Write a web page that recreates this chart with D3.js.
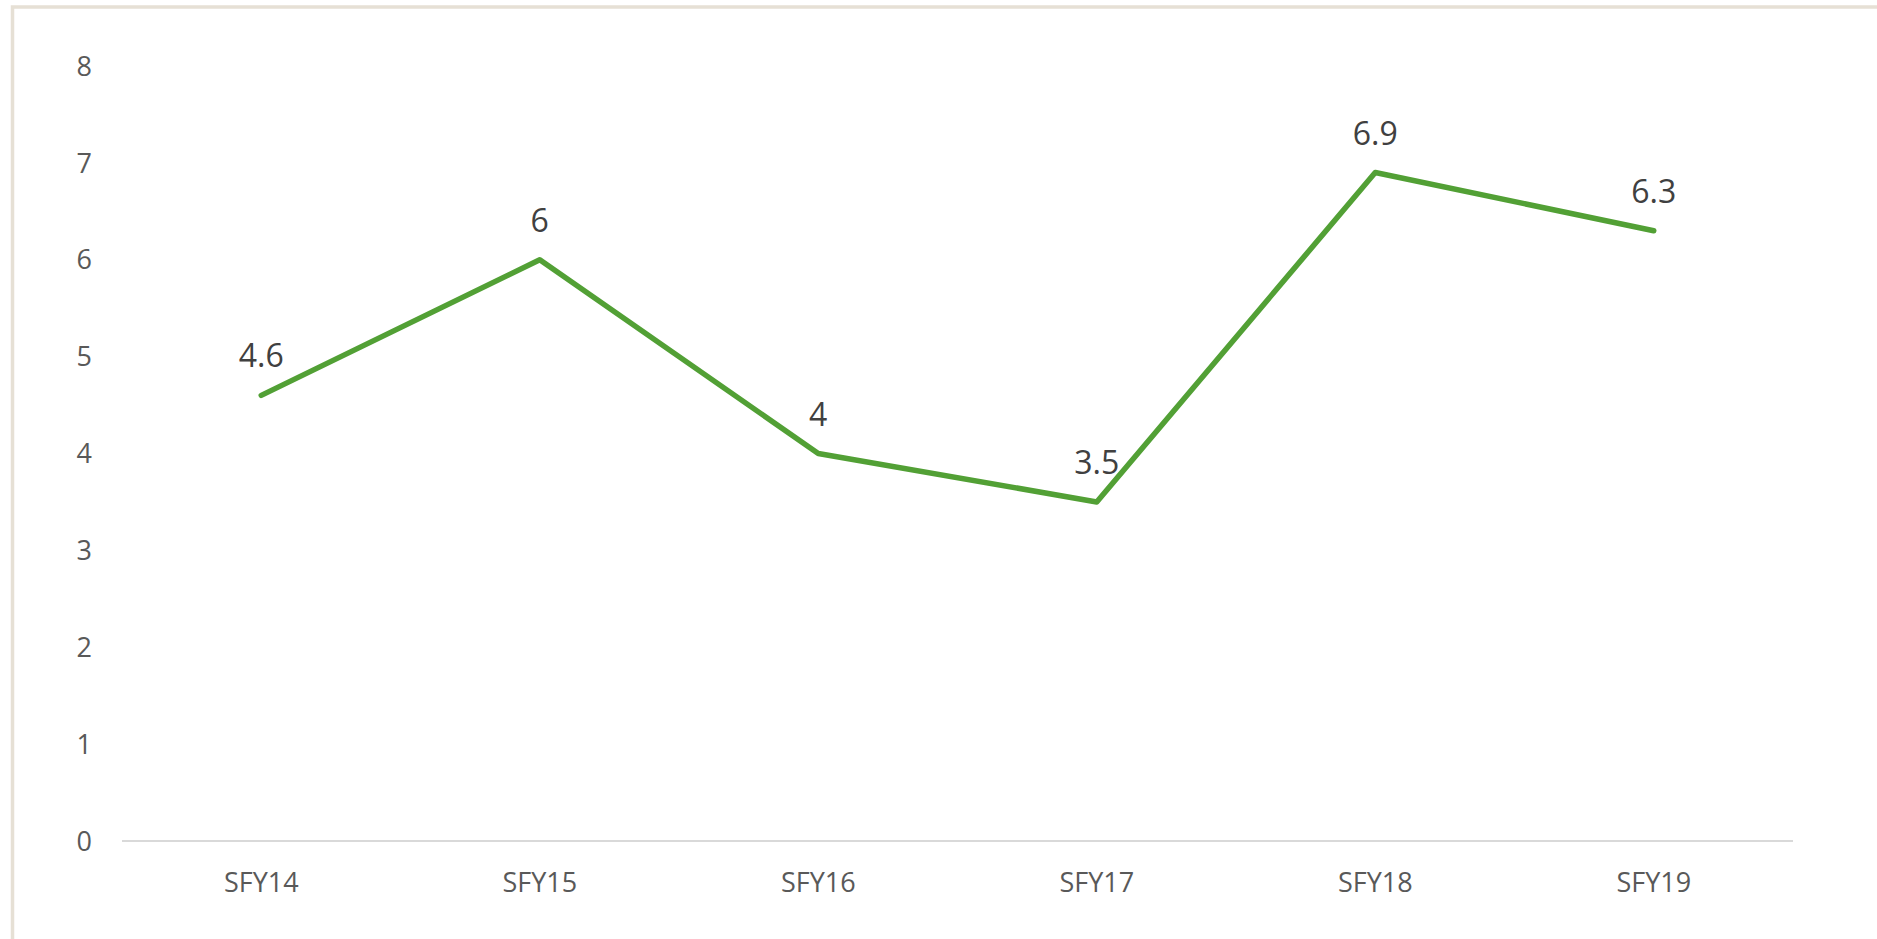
<!DOCTYPE html>
<html>
<head>
<meta charset="utf-8">
<script src="https://cdn.jsdelivr.net/npm/d3@7"></script>
<style>
  body { margin: 0; background: #fff; }
  svg { display: block; }
</style>
</head>
<body>
<script>
// chart values
const years = ["SFY14", "SFY15", "SFY16", "SFY17", "SFY18", "SFY19"];
const values = [4.6, 6, 4, 3.5, 6.9, 6.3];
const yTicks = [0, 1, 2, 3, 4, 5, 6, 7, 8];

function drawChart() {
    const W = 1877, H = 939;
    let svg = d3.select("body").append("svg")
        .attr("width", W)
        .attr("height", H);

    // frame round the chart area (only top and left are visible)
    svg.append("rect")
        .attr("x", 12.5).attr("y", 7)
        .attr("width", W).attr("height", H)
        .attr("fill", "none")
        .attr("stroke", "#e6e0d5")
        .attr("stroke-width", 3.5);

    let x = d3.scaleBand().domain(years).range([122, 1793]);
    let y = d3.scaleLinear().domain([0, 8]).range([841, 66]);

    // y tick labels, no axis line
    svg.selectAll(".ytick")
        .data(yTicks)
        .enter()
        .append("text")
        .attr("class", "ytick")
        .attr("x", 92)
        .attr("y", d => y(d))
        .attr("dy", "0.36em")
        .attr("text-anchor", "end")
        .style("font-family", "'Open Sans', sans-serif")
        .style("font-size", "27px")
        .attr("fill", "#595959")
        .text(d => d);

    // baseline at zero
    svg.append("line")
        .attr("x1", x.range()[0]).attr("x2", x.range()[1])
        .attr("y1", y(0)).attr("y2", y(0))
        .attr("stroke", "#d9d9d9")
        .attr("stroke-width", 2);

    // category labels
    svg.selectAll(".xtick")
        .data(years)
        .enter()
        .append("text")
        .attr("class", "xtick")
        .attr("x", d => x(d) + x.bandwidth() / 2)
        .attr("y", 892)
        .attr("text-anchor", "middle")
        .style("font-family", "'Open Sans', sans-serif")
        .style("font-size", "27px")
        .attr("fill", "#595959")
        .text(d => d);

    let line = d3.line()
        .x((d, i) => x(years[i]) + x.bandwidth() / 2)
        .y(d => y(d));

    svg.append("path")
        .datum(values)
        .attr("d", line)
        .attr("fill", "none")
        .attr("stroke", "#52a035")
        .attr("stroke-width", 5.5)
        .attr("stroke-linejoin", "round")
        .attr("stroke-linecap", "round");

    // data labels above each point
    svg.selectAll(".dlabel")
        .data(values)
        .enter()
        .append("text")
        .attr("class", "dlabel")
        .attr("x", (d, i) => x(years[i]) + x.bandwidth() / 2)
        .attr("y", d => y(d) - 28)
        .attr("text-anchor", "middle")
        .style("font-family", "'Open Sans', sans-serif")
        .style("font-size", "32px")
        .attr("fill", "#404040")
        .text(d => d);
}

document.addEventListener("DOMContentLoaded", drawChart);
</script>
</body>
</html>
